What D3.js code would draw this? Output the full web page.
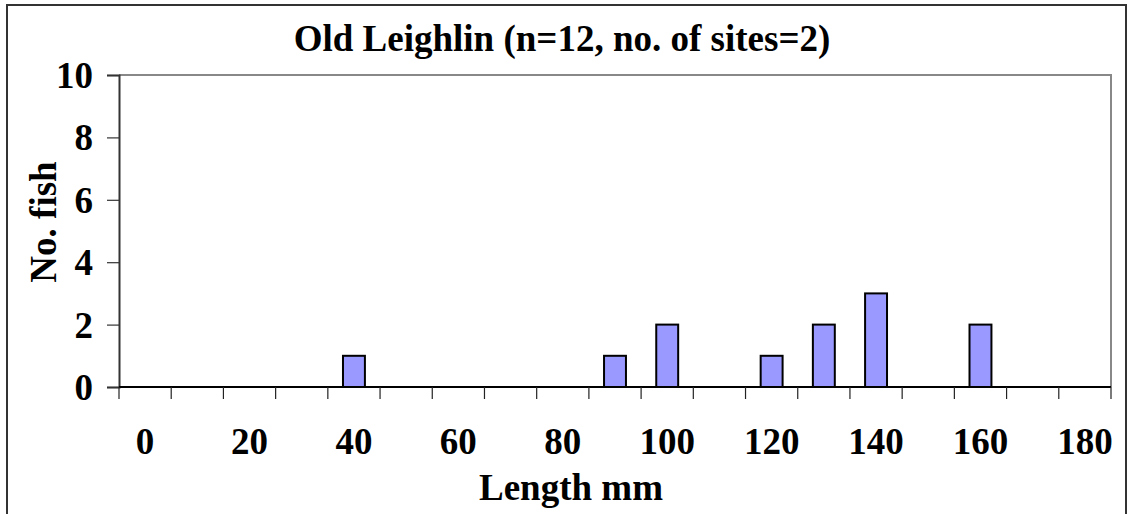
<!DOCTYPE html>
<html>
<head>
<meta charset="utf-8">
<script src="https://cdn.jsdelivr.net/npm/d3@7"></script>
<style>
  html, body { margin: 0; padding: 0; background: #fff; }
  svg { display: block; }
</style>
</head>
<body>
<svg id="chart" width="1127" height="514"></svg>
<script>
// Length classes (mm) and number of fish in each class
const lengthClasses = [0, 10, 20, 30, 40, 50, 60, 70, 80, 90, 100, 110, 120, 130, 140, 150, 160, 170, 180];
const fishCounts    = [0, 0, 0, 0, 1, 0, 0, 0, 0, 1, 2, 0, 1, 2, 3, 0, 2, 0, 0];
const xTickLabels   = [0, 20, 40, 60, 80, 100, 120, 140, 160, 180];
const yTickValues   = [0, 2, 4, 6, 8, 10];

const chartTitle = "Old Leighlin (n=12, no. of sites=2)";
const xTitle = "Length mm";
const yTitle = "No. fish";

const FONT = "'Liberation Serif', 'Times New Roman', serif";
const FS = "37px";
const plot = { left: 119, top: 75, right: 1111, bottom: 387 };

const svg = d3.select("#chart");

// outer chart frame
svg.append("rect")
  .attr("x", 7).attr("y", 5)
  .attr("width", 1119).attr("height", 530)
  .attr("fill", "#fff").attr("stroke", "#333").attr("stroke-width", 2);

const x = d3.scaleBand()
  .domain(lengthClasses)
  .range([plot.left, plot.right])
  .paddingInner(0).paddingOuter(0);

const y = d3.scaleLinear()
  .domain([0, 10])
  .range([plot.bottom, plot.top]);

// plot area frame (top and right edges)
svg.append("path")
  .attr("d", `M${plot.left},${plot.top}H${plot.right}V${plot.bottom}`)
  .attr("fill", "none").attr("stroke", "#888").attr("stroke-width", 2);

// bars
const barW = x.bandwidth() * 0.42;
svg.append("g").selectAll("rect")
  .data(lengthClasses.map((c, i) => ({ c, v: fishCounts[i] })).filter(d => d.v > 0))
  .join("rect")
  .attr("x", d => x(d.c) + (x.bandwidth() - barW) / 2)
  .attr("y", d => y(d.v))
  .attr("width", barW)
  .attr("height", d => y(0) - y(d.v))
  .attr("fill", "#9999ff")
  .attr("stroke", "#000")
  .attr("stroke-width", 2);

// y axis
const yAxis = d3.axisLeft(y)
  .tickValues(yTickValues)
  .tickSize(12)
  .tickPadding(14)
  .tickFormat(d3.format("d"));
const gy = svg.append("g")
  .attr("transform", `translate(${plot.left},0)`)
  .call(yAxis);
gy.attr("font-family", null).attr("font-size", null);
gy.select(".domain").attr("stroke", "#333").attr("stroke-width", 2);
gy.selectAll(".tick line").attr("stroke", "#333").attr("stroke-width", 1.2);
gy.selectAll(".tick text")
  .style("font-family", FONT)
  .style("font-weight", "bold")
  .style("font-size", FS)
  .attr("fill", "#000")
  .attr("dy", "0.34em");

// x axis: ticks at class boundaries, labels on every other class
const boundaries = lengthClasses.map(c => x(c)).concat([x.range()[1]]);
const gx = svg.append("g");
gx.append("line")
  .attr("x1", plot.left).attr("x2", plot.right)
  .attr("y1", plot.bottom).attr("y2", plot.bottom)
  .attr("stroke", "#000").attr("stroke-width", 2);
gx.selectAll("line.tick")
  .data(boundaries)
  .join("line")
  .attr("class", "tick")
  .attr("x1", d => d).attr("x2", d => d)
  .attr("y1", plot.bottom).attr("y2", plot.bottom + 12)
  .attr("stroke", "#222").attr("stroke-width", 1.2);
gx.selectAll("text")
  .data(xTickLabels)
  .join("text")
  .attr("x", d => x(d) + x.bandwidth() / 2)
  .attr("y", 454)
  .attr("text-anchor", "middle")
  .style("font-family", FONT)
  .style("font-weight", "bold")
  .style("font-size", FS)
  .text(d => d);

// titles
svg.append("text")
  .attr("x", 562).attr("y", 51)
  .attr("text-anchor", "middle")
  .style("font-family", FONT)
  .style("font-weight", "bold")
  .style("font-size", FS)
  .text(chartTitle);

svg.append("text")
  .attr("x", 571).attr("y", 500)
  .attr("text-anchor", "middle")
  .style("font-family", FONT)
  .style("font-weight", "bold")
  .style("font-size", FS)
  .text(xTitle);

svg.append("text")
  .attr("transform", "translate(56,222) rotate(-90)")
  .attr("text-anchor", "middle")
  .style("font-family", FONT)
  .style("font-weight", "bold")
  .style("font-size", FS)
  .text(yTitle);
</script>
</body>
</html>
